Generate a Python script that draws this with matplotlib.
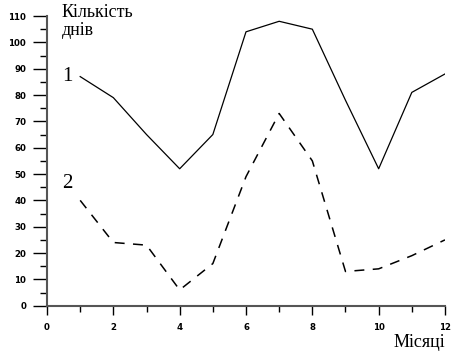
import matplotlib
matplotlib.use("Agg")
import matplotlib.pyplot as plt
from matplotlib.ticker import MultipleLocator

# місяці та кількість днів для двох кривих
months = [1, 2, 3, 4, 5, 6, 7, 8, 9, 10, 11, 12]
days_1 = [87, 79, 65, 52, 65, 104, 108, 105, 78, 52, 81, 88]
days_2 = [40, 24, 23, 6, 16, 49, 73, 55, 13, 14, 19, 25]

x_ticks = [0, 2, 4, 6, 8, 10, 12]
y_ticks = [0, 10, 20, 30, 40, 50, 60, 70, 80, 90, 100, 110]

fig = plt.figure(figsize=(4.53, 3.52), dpi=100)
ax = fig.add_axes([0.1038, 0.1315, 0.8785, 0.823])

ax.plot(months, days_1, color="black", lw=0.9)
ax.plot(months, days_2, color="black", lw=1.1, linestyle=(0, (6.5, 5.5)))

ax.set_xlim(0, 12)
ax.set_ylim(0, 110)
ax.set_xticks(x_ticks)
ax.set_yticks(y_ticks)
ax.xaxis.set_minor_locator(MultipleLocator(1))
ax.yaxis.set_minor_locator(MultipleLocator(5))

for side in ["top", "right"]:
    ax.spines[side].set_visible(False)
for side in ["left", "bottom"]:
    ax.spines[side].set_color("#555555")
    ax.spines[side].set_linewidth(1.5)

ax.tick_params(axis="y", which="major", length=10, width=1.0, pad=5)
ax.tick_params(axis="y", which="minor", length=5, width=1.0)
ax.tick_params(axis="x", which="major", length=6.5, width=1.0, pad=6)
ax.tick_params(axis="x", which="minor", length=4, width=1.0)
for lbl in ax.get_xticklabels() + ax.get_yticklabels():
    lbl.set_fontfamily("DejaVu Sans")
    lbl.set_fontweight("bold")
    lbl.set_fontsize(6.2)

serif = "Liberation Serif"
fig.text(62 / 453, 1 - 4 / 352, "Кількість\nднів", family=serif, fontsize=13,
         ha="left", va="top", linespacing=1.1)
fig.text(445 / 453, 1 - 347 / 352, "Місяці", family=serif, fontsize=13,
         ha="right", va="baseline")
fig.text(62 / 453, 1 - 81 / 352, "1", family=serif, fontsize=15,
         ha="left", va="baseline")
fig.text(62 / 453, 1 - 188 / 352, "2", family=serif, fontsize=15,
         ha="left", va="baseline")

fig.savefig("out.png", dpi=100)
